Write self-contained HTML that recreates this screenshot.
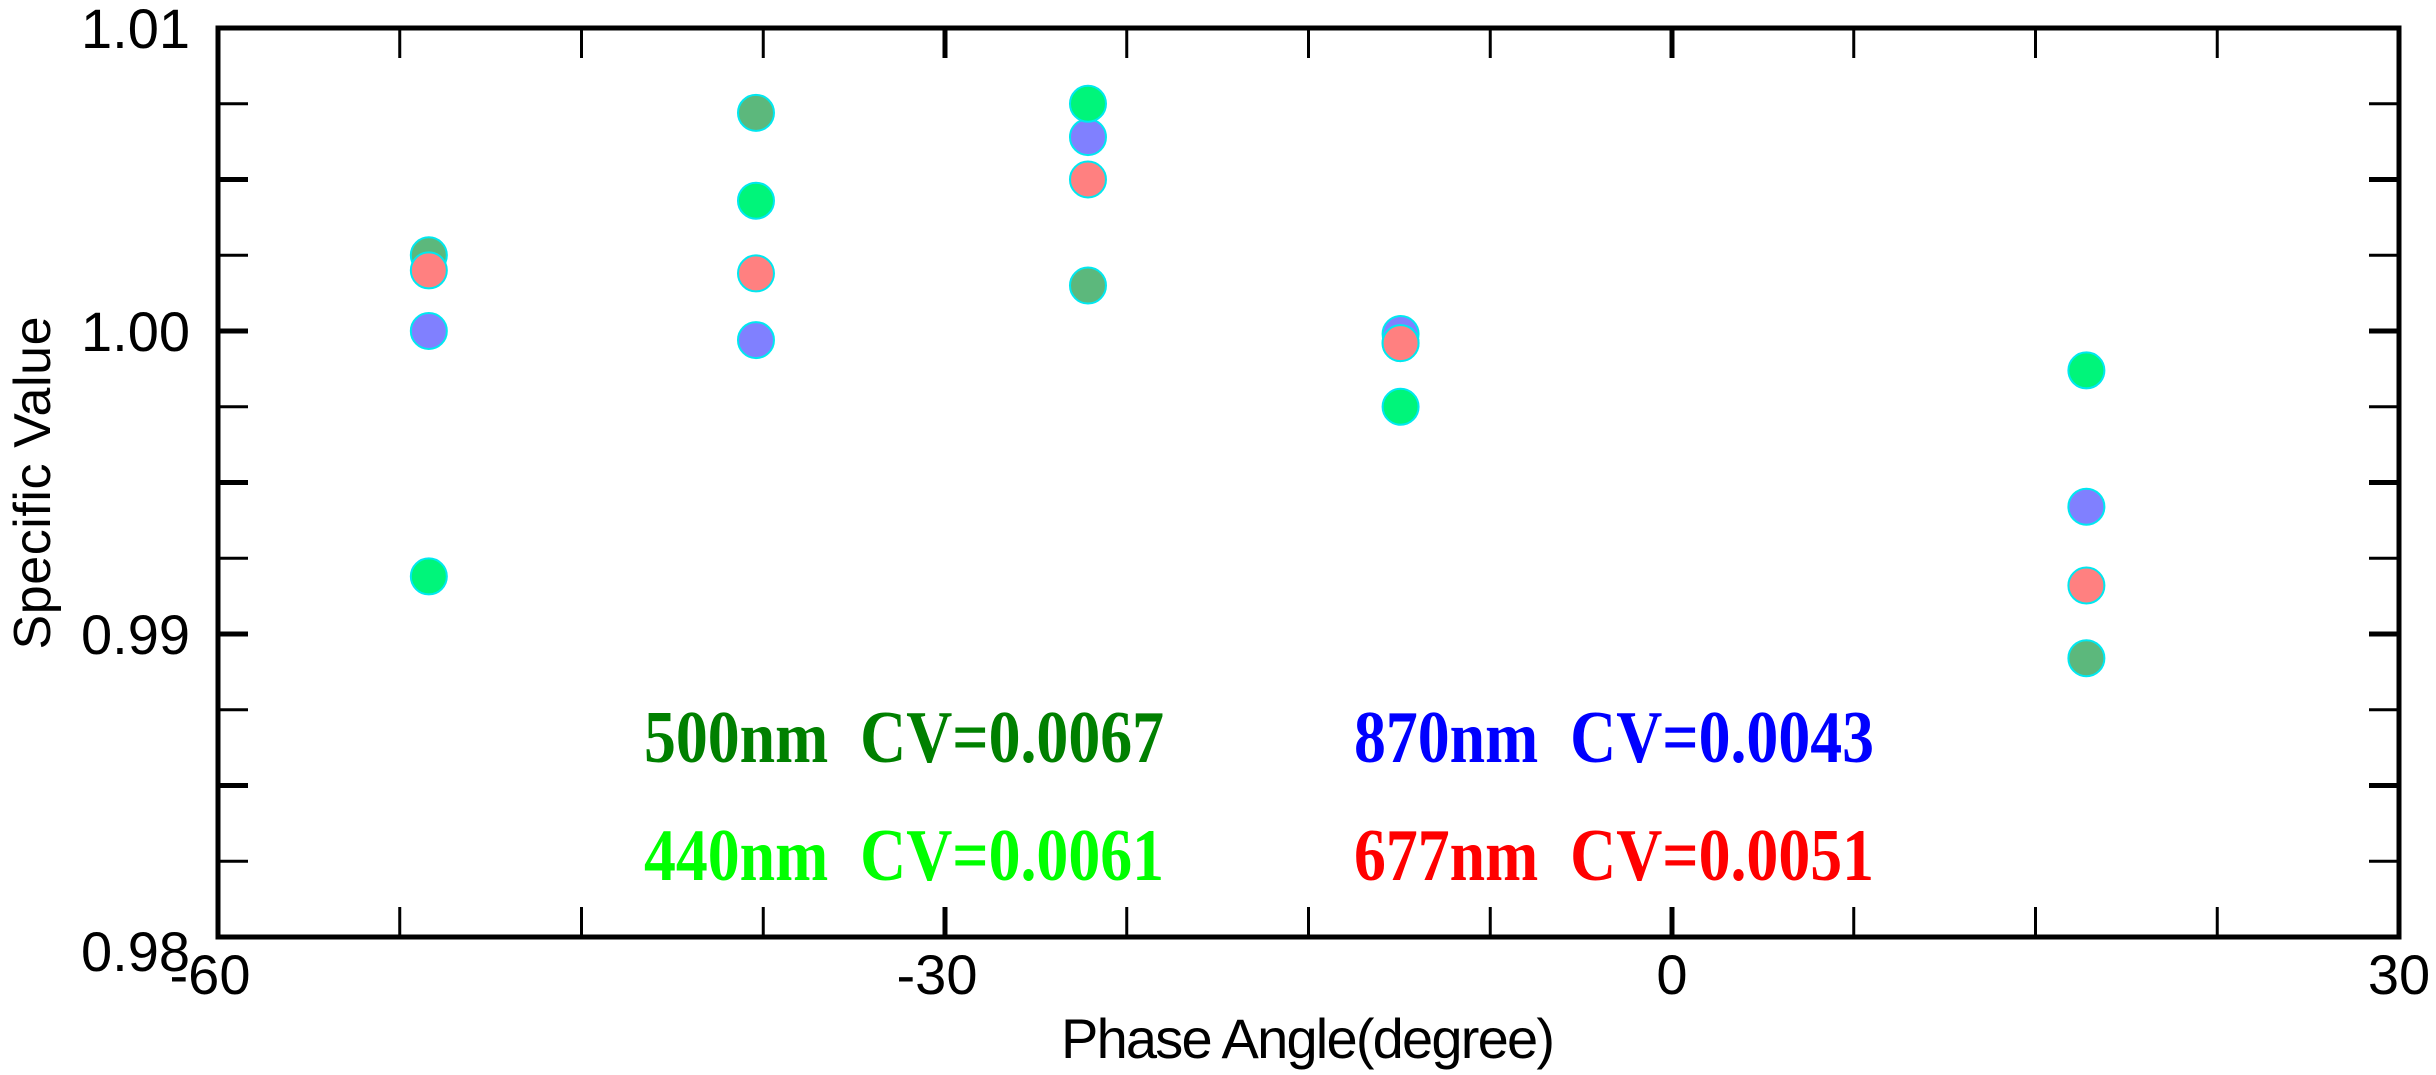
<!DOCTYPE html>
<html><head><meta charset="utf-8"><style>
html,body{margin:0;padding:0;background:#fff;}
svg{display:block;}
</style></head><body>
<svg id="chart" width="2436" height="1075" viewBox="0 0 2436 1075" xmlns="http://www.w3.org/2000/svg">
<rect x="0" y="0" width="2436" height="1075" fill="#fff"/>
<g id="ticks"></g>
<g id="marks"></g>
<rect x="218" y="28" width="2181" height="909" fill="none" stroke="#000" stroke-width="5"/>
<g id="labels" font-family="'Liberation Sans','DejaVu Sans',sans-serif" font-size="56" fill="#000"></g>
<text x="1308" y="1058" text-anchor="middle" font-family="'Liberation Sans',sans-serif" font-size="56" textLength="494">Phase Angle(degree)</text>
<text transform="translate(50,483) rotate(-90)" text-anchor="middle" font-family="'Liberation Sans',sans-serif" font-size="52" textLength="333">Specific Value</text>
<g font-family="'Liberation Serif',serif" font-weight="bold" font-size="74">
<text x="644" y="762" fill="#008000" textLength="520" lengthAdjust="spacingAndGlyphs">500nm&#160; CV=0.0067</text>
<text x="644" y="880" fill="#00ff00" textLength="520" lengthAdjust="spacingAndGlyphs">440nm&#160; CV=0.0061</text>
<text x="1354" y="762" fill="#0000ff" textLength="520" lengthAdjust="spacingAndGlyphs">870nm&#160; CV=0.0043</text>
<text x="1354" y="880" fill="#ff0000" textLength="520" lengthAdjust="spacingAndGlyphs">677nm&#160; CV=0.0051</text>
</g>
</svg>
<script>
const angles = [-51.3, -37.8, -24.1, -11.2, 17.1];
const v500 = [1.0025, 1.0072, 1.0015, 0.9996, 0.9892];
const v870 = [1.0000, 0.9997, 1.0064, 0.9999, 0.9942];
const v440 = [0.9919, 1.0043, 1.0075, 0.9975, 0.9987];
const v677 = [1.0020, 1.0019, 1.0050, 0.9996, 0.9916];
const xTickLabels = [-60, -30, 0, 30];
const yTickLabels = ["0.98", "0.99", "1.00", "1.01"];

const X0 = 218, X1 = 2399, Y0 = 28, Y1 = 937;
const xmin = -60, xmax = 30, ymin = 0.98, ymax = 1.01;
const sx = v => X0 + (v - xmin) / (xmax - xmin) * (X1 - X0);
const sy = v => Y1 - (v - ymin) / (ymax - ymin) * (Y1 - Y0);
const NS = "http://www.w3.org/2000/svg";
const ticks = document.getElementById('ticks');
const marks = document.getElementById('marks');
const labels = document.getElementById('labels');

function line(x1, y1, x2, y2, w) {
  const l = document.createElementNS(NS, 'line');
  l.setAttribute('x1', x1); l.setAttribute('y1', y1);
  l.setAttribute('x2', x2); l.setAttribute('y2', y2);
  l.setAttribute('stroke', '#000'); l.setAttribute('stroke-width', w);
  
  
  ticks.appendChild(l);
}
for (let a = xmin + 7.5; a < xmax; a += 7.5) {
  const x = sx(a);
  const major = Math.abs(a % 30) < 1e-6;
  line(x, Y1, x, Y1 - 30, major ? 5 : 3);
  line(x, Y0, x, Y0 + 30, major ? 5 : 3);
}
for (let v = ymin + 0.0025; v < ymax - 1e-9; v += 0.0025) {
  const y = sy(v);
  const major = Math.abs(((v - ymin) / 0.005) - Math.round((v - ymin) / 0.005)) < 1e-6;
  line(X0, y, X0 + 30, y, major ? 5 : 3);
  line(X1, y, X1 - 30, y, major ? 5 : 3);
}
xTickLabels.forEach(t => {
  const el = document.createElementNS(NS, 'text');
  el.setAttribute('x', sx(t) - (t < 0 ? 8 : 0)); el.setAttribute('y', 994);
  el.setAttribute('text-anchor', 'middle');
  el.textContent = t;
  
  
  labels.appendChild(el);
});
yTickLabels.forEach(t => {
  const el = document.createElementNS(NS, 'text');
  el.setAttribute('x', 190);
  el.setAttribute('y', sy(parseFloat(t)) + 20 + (t === "0.98" ? 14 : 0));
  el.setAttribute('text-anchor', 'end');
  el.textContent = t;
  
  
  labels.appendChild(el);
});
function series(vals, fill, name) {
  vals.forEach((v, i) => {
    const c = document.createElementNS(NS, 'circle');
    c.setAttribute('cx', sx(angles[i]));
    c.setAttribute('cy', sy(v));
    c.setAttribute('r', 18);
    c.setAttribute('fill', fill);
    c.setAttribute('stroke', '#00e8f0');
    c.setAttribute('stroke-width', 2);
    
    
    marks.appendChild(c);
  });
}
series(v500, '#5cb87c', 'point-500nm');
series(v870, '#8080ff', 'point-870nm');
series(v440, '#00f57a', 'point-440nm');
series(v677, '#ff8080', 'point-677nm');
</script>
</body></html>
